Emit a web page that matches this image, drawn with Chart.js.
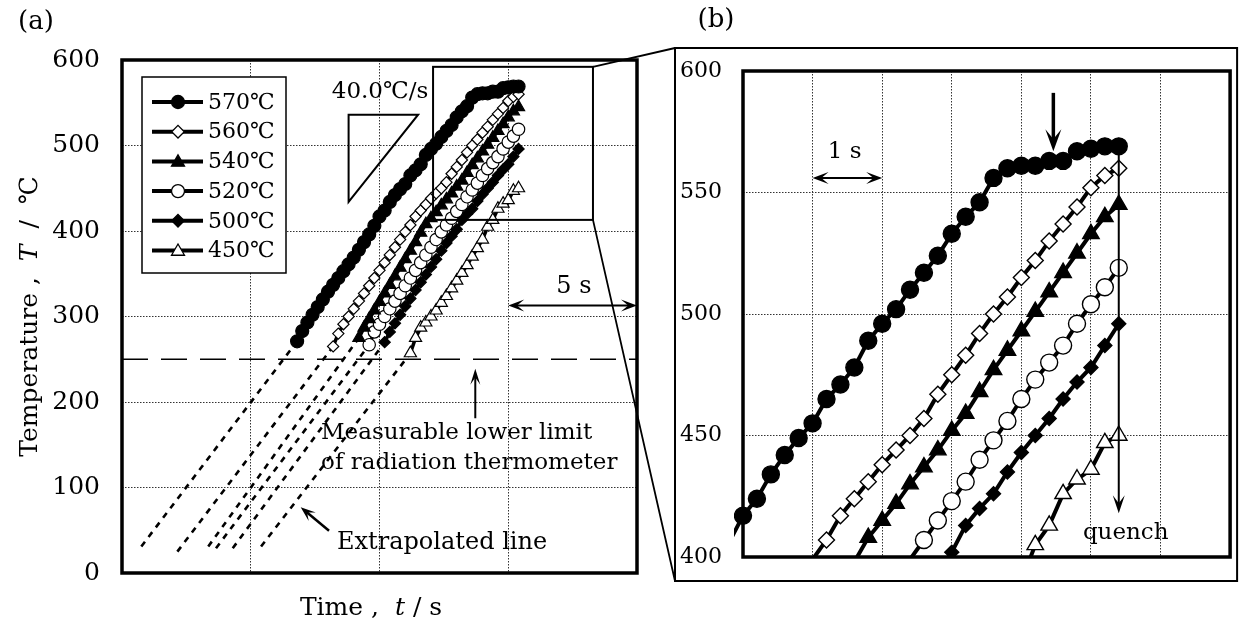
<!DOCTYPE html>
<html><head><meta charset="utf-8">
<script src="https://cdn.jsdelivr.net/npm/chart.js@4.4.1/dist/chart.umd.min.js"></script>
<style>
html,body{margin:0;padding:0;background:#fff;}
#wrap{position:relative;width:1241px;height:635px;overflow:hidden;background:#fff;}
canvas{position:absolute;left:0;top:0;}
</style></head><body>
<div id="wrap"><canvas id="ca" width="1241" height="635"></canvas><canvas id="cb" width="1241" height="635"></canvas></div>
<script>
// ---------------- data ----------------
const seriesLabels = ['570℃','560℃','540℃','520℃','500℃','450℃'];
const sampleStep = 0.2;                       // s between measured points
const startTimes = [6.8, 8.2, 9.2, 9.6, 10.2, 11.2];  // s, first measured point
const temps570 = [271,283,293,302,311,320,329,337,345,353,361,369,378,387,396,406,417,
  424,434,442,449,455,465,471,478,489,496,502,510,517,524,533,540,546,556,560,561,561,563,563,567,568,569,569];
const temps560 = [265,280,291,300,309,318,327,336,345,354,363,372,381,390,399,
  407,417,424,431,438,444,450,457,467,475,483,492,500,507,515,522,530,537,544,552,557,560];
const temps540 = [275,287,297,307,317,327,337,347,357,367,377,387,398,
  408,415,422,430,437,444,452,459,468,477,485,493,501,509,517,525,533,540,545];
const temps520 = [267,282,291,300,309,318,327,336,345,354,363,372,381,390,399,
  407,415,423,431,440,448,456,465,473,480,487,496,504,511,519];
const temps500 = [270,282,292,302,312,321,331,340,349,358,367,377,386,394,
  402,413,420,426,435,443,450,457,465,472,478,487,496];
const temps450 = [257,275,287,293,300,307,316,324,333,342,351,360,370,380,390,
  405,413,426,432,436,447,450];
const seriesTemps = [temps570,temps560,temps540,temps520,temps500,temps450];
// extrapolated lines: lower end (time s, temperature ℃), upper end = first measured point
const extrapTimes = [0.75, 2.15, 3.35, 3.65, 4.3, 5.4];
const extrapTemps = [31, 25, 31, 29, 29, 31];
const lowerLimitTemp = 250;      // measurable lower limit of radiation thermometer
const yTicksA = [0,100,200,300,400,500,600];
const yTicksB = [400,450,500,550,600];

// ---------------- styles ----------------
const markerStyle = ['circle','rectRot','triangle','circle','rectRot','triangle'];
const markerFill  = ['#000','#fff','#000','#fff','#000','#fff'];
const radiusA = [6.5,5.6,7,6.2,5.6,7];
const radiusB = [8.5,8,9.5,8.5,7,9.5];
const SERIF = '"DejaVu Serif", "Liberation Serif", serif';

function toPoints(t0, vals){ return vals.map((v,i)=>({x:+(t0+i*sampleStep).toFixed(2), y:v})); }
const seriesPoints = seriesTemps.map((v,i)=>toPoints(startTimes[i], v));

function drawRich(ctx, parts, x, y, size, align){
  let w=0;
  parts.forEach(p=>{ctx.font=(p.i?'italic ':'')+size+'px '+SERIF; w+=ctx.measureText(p.t).width;});
  let cx = align==='center'? x-w/2 : (align==='right'? x-w : x);
  ctx.textAlign='left'; ctx.textBaseline='middle';
  parts.forEach(p=>{ctx.font=(p.i?'italic ':'')+size+'px '+SERIF; ctx.fillText(p.t,cx,y); cx+=ctx.measureText(p.t).width;});
}
function arrowHead(ctx,x,y,ang,len,half){
  const c=Math.cos(ang), s=Math.sin(ang);
  ctx.beginPath();
  ctx.moveTo(x,y);
  ctx.lineTo(x-len*c+half*s, y-len*s-half*c);
  ctx.lineTo(x-0.55*len*c, y-0.55*len*s);
  ctx.lineTo(x-len*c-half*s, y-len*s+half*c);
  ctx.closePath(); ctx.fill();
}
function arrow(ctx,x1,y1,x2,y2,both,lw,len,half){
  const ang=Math.atan2(y2-y1,x2-x1), c=Math.cos(ang), s=Math.sin(ang);
  ctx.lineWidth=lw; ctx.beginPath();
  const sx = both? x1+0.5*len*c : x1, sy = both? y1+0.5*len*s : y1;
  ctx.moveTo(sx,sy); ctx.lineTo(x2-0.5*len*c,y2-0.5*len*s); ctx.stroke();
  arrowHead(ctx,x2,y2,ang,len,half);
  if(both) arrowHead(ctx,x1,y1,ang+Math.PI,len,half);
}
function marker(ctx,style,r,x,y,fill){
  ctx.save(); ctx.fillStyle=fill; ctx.strokeStyle='#000'; ctx.lineWidth=1.3;
  Chart.helpers.drawPoint(ctx,{pointStyle:style,radius:r,rotation:0,borderWidth:1.3},x,y);
  ctx.restore();
}

// ---------------- chart (a) ----------------
const dsA = [];
seriesPoints.forEach((pts,i)=>{
  dsA.push({label:seriesLabels[i], data:pts, borderColor:'#000', borderWidth:3.5, tension:0,
    pointStyle:markerStyle[i], pointRadius:radiusA[i], pointBackgroundColor:markerFill[i],
    pointBorderColor:'#000', pointBorderWidth:1.2, order:i});
});
seriesPoints.forEach((pts,i)=>{
  dsA.push({label:'extrap'+i, data:[{x:extrapTimes[i],y:extrapTemps[i]},{x:pts[0].x,y:pts[0].y}],
    borderColor:'#000', borderWidth:2.6, borderDash:[6,6], pointRadius:0, order:10});
});
dsA.push({label:'limit', data:[{x:0,y:lowerLimitTemp},{x:20,y:lowerLimitTemp}], borderColor:'#000',
  borderWidth:1.3, borderDash:[26,13], pointRadius:0, order:11});

const annoA = {
  id:'annoA',
  afterDraw(chart){
    const {ctx, chartArea:ca, scales:{x,y}} = chart;
    ctx.save();
    ctx.fillStyle='#000'; ctx.strokeStyle='#000';
    // frame
    ctx.lineWidth=3.5; ctx.strokeRect(ca.left,ca.top,ca.right-ca.left,ca.bottom-ca.top);
    // panel label
    ctx.font='26px '+SERIF; ctx.textAlign='center'; ctx.textBaseline='middle';
    ctx.fillText('(a)',36,22);
    // axis titles
    drawRich(ctx,[{t:'Time ,  '},{t:'t',i:true},{t:' / s'}],371,608,25,'center');
    ctx.save(); ctx.translate(30,(ca.top+ca.bottom)/2); ctx.rotate(-Math.PI/2);
    drawRich(ctx,[{t:'Temperature ,  '},{t:'T',i:true},{t:'  /  ℃'}],0,0,25,'center');
    ctx.restore();
    // legend
    const lx=ca.left+20, ly=ca.top+17, lw=144, lh=196;
    ctx.fillStyle='#fff'; ctx.fillRect(lx,ly,lw,lh);
    ctx.lineWidth=1.5; ctx.strokeStyle='#000'; ctx.strokeRect(lx,ly,lw,lh);
    const legR=[6.5,6.3,7.5,6.5,6.3,7.5];
    seriesLabels.forEach((lab,i)=>{
      const yy=ly+25+i*29.7;
      ctx.lineWidth=4; ctx.beginPath(); ctx.moveTo(lx+10,yy); ctx.lineTo(lx+61,yy); ctx.stroke();
      marker(ctx,markerStyle[i],legR[i],lx+36,yy+(markerStyle[i]==='triangle'?1:0),markerFill[i]);
      ctx.fillStyle='#000'; ctx.font='22px '+SERIF; ctx.textAlign='left'; ctx.textBaseline='middle';
      ctx.fillText(lab,lx+66,yy+1);
    });
    // 40.0℃/s slope triangle
    ctx.lineWidth=2; ctx.beginPath();
    ctx.moveTo(x.getPixelForValue(8.8),y.getPixelForValue(536));
    ctx.lineTo(x.getPixelForValue(11.5),y.getPixelForValue(536));
    ctx.lineTo(x.getPixelForValue(8.8),y.getPixelForValue(434));
    ctx.closePath(); ctx.stroke();
    ctx.font='23px '+SERIF; ctx.textAlign='center'; ctx.textBaseline='middle';
    ctx.fillText('40.0℃/s',x.getPixelForValue(10.02),y.getPixelForValue(562));
    // zoom rectangle
    const rx1=x.getPixelForValue(12.08), rx2=x.getPixelForValue(18.29);
    const ry1=y.getPixelForValue(592), ry2=y.getPixelForValue(413);
    ctx.lineWidth=2; ctx.strokeRect(rx1,ry1,rx2-rx1,ry2-ry1);
    // connector lines to panel (b) frame
    ctx.lineWidth=1.8; ctx.beginPath();
    ctx.moveTo(rx2,ry1); ctx.lineTo(675,48);
    ctx.moveTo(rx2,ry2); ctx.lineTo(675,581); ctx.stroke();
    // 5 s arrow
    arrow(ctx,x.getPixelForValue(15),y.getPixelForValue(313),x.getPixelForValue(20),y.getPixelForValue(313),true,2,16,6);
    ctx.font='24px '+SERIF; ctx.textAlign='center'; ctx.textBaseline='middle';
    ctx.fillText('5 s',x.getPixelForValue(17.55),y.getPixelForValue(335));
    // lower limit annotation
    arrow(ctx,x.getPixelForValue(13.72),y.getPixelForValue(181),x.getPixelForValue(13.72),y.getPixelForValue(239),false,2,16,5);
    ctx.textAlign='left'; ctx.font='23px '+SERIF;
    ctx.fillText('Measurable lower limit',x.getPixelForValue(7.73),y.getPixelForValue(164));
    ctx.fillText('of radiation thermometer',x.getPixelForValue(7.73),y.getPixelForValue(129));
    // extrapolated line annotation
    arrow(ctx,x.getPixelForValue(8.04),y.getPixelForValue(49.5),x.getPixelForValue(6.94),y.getPixelForValue(77),false,2.5,15,5.5);
    ctx.font='24px '+SERIF;
    ctx.fillText('Extrapolated line',x.getPixelForValue(8.35),y.getPixelForValue(35));
    ctx.restore();
  }
};

new Chart(document.getElementById('ca'),{
  type:'line',
  data:{datasets:dsA},
  options:{
    responsive:false, animation:false, devicePixelRatio:1,
    layout:{padding:{left:0,top:60,right:604,bottom:62}},
    plugins:{legend:{display:false},tooltip:{enabled:false}},
    scales:{
      x:{type:'linear',min:0,max:20,
        ticks:{display:false,stepSize:5},
        grid:{color:'#333',lineWidth:1,drawTicks:false},
        border:{display:false,dash:[1.5,1.5]},
        afterFit(s){s.height=0;}},
      y:{type:'linear',min:0,max:600,
        afterBuildTicks(s){s.ticks=yTicksA.map(v=>({value:v}));},
        ticks:{color:'#000',padding:22,font:{family:SERIF,size:25}},
        grid:{color:'#333',lineWidth:1,drawTicks:false},
        border:{display:false,dash:[1.5,1.5]},
        afterFit(s){s.width=122;}}
    }
  },
  plugins:[annoA]
});

// ---------------- chart (b) ----------------
const dsB = seriesPoints.map((pts,i)=>({label:seriesLabels[i], data:pts, borderColor:'#000', borderWidth:4, tension:0,
  pointStyle:markerStyle[i], pointRadius:(c)=> (c.raw && (c.raw.x<9.999 || c.raw.y<400)) ? 0 : radiusB[i],
  pointBackgroundColor:markerFill[i], pointBorderColor:'#000', pointBorderWidth:1.4,
  clip:{left:9,top:0,right:0,bottom:0}, order:i}));

const annoB = {
  id:'annoB',
  afterDraw(chart){
    const {ctx, chartArea:ca, scales:{x,y}} = chart;
    ctx.save(); ctx.fillStyle='#000'; ctx.strokeStyle='#000';
    ctx.lineWidth=3.5; ctx.strokeRect(ca.left,ca.top,ca.right-ca.left,ca.bottom-ca.top);
    ctx.lineWidth=2; ctx.strokeRect(ca.left-68,ca.top-23,ca.right-ca.left+75,ca.bottom-ca.top+47);
    ctx.font='26px '+SERIF; ctx.textAlign='center'; ctx.textBaseline='middle';
    ctx.fillText('(b)',716,20);
    // 1 s arrow
    arrow(ctx,x.getPixelForValue(11),y.getPixelForValue(556),x.getPixelForValue(12),y.getPixelForValue(556),true,2,16,6);
    ctx.font='23px '+SERIF;
    ctx.fillText('1 s',x.getPixelForValue(11.46),y.getPixelForValue(566.5));
    // down arrow
    arrow(ctx,x.getPixelForValue(14.46),y.getPixelForValue(591),x.getPixelForValue(14.46),y.getPixelForValue(567),false,3.5,22,8);
    // quench arrow
    const lastT = seriesPoints[0][seriesPoints[0].length-1];
    arrow(ctx,x.getPixelForValue(lastT.x),y.getPixelForValue(lastT.y),x.getPixelForValue(lastT.x),y.getPixelForValue(418),false,2,18,6);
    ctx.fillText('quench',x.getPixelForValue(15.5),y.getPixelForValue(410));
    ctx.restore();
  }
};

new Chart(document.getElementById('cb'),{
  type:'line',
  data:{datasets:dsB},
  options:{
    responsive:false, animation:false, devicePixelRatio:1,
    layout:{padding:{left:0,top:71,right:8,bottom:78}},
    plugins:{legend:{display:false},tooltip:{enabled:false}},
    scales:{
      x:{type:'linear',min:10,max:17,
        ticks:{display:false,stepSize:1},
        grid:{color:'#333',lineWidth:1,drawTicks:false},
        border:{display:false,dash:[1.5,1.5]},
        afterFit(s){s.height=0;}},
      y:{type:'linear',min:400,max:600,
        afterBuildTicks(s){s.ticks=yTicksB.map(v=>({value:v}));},
        ticks:{color:'#000',padding:21,font:{family:SERIF,size:22}},
        grid:{color:'#333',lineWidth:1,drawTicks:false},
        border:{display:false,dash:[1.5,1.5]},
        afterFit(s){s.width=743;}}
    }
  },
  plugins:[annoB]
});
</script>
</body></html>
